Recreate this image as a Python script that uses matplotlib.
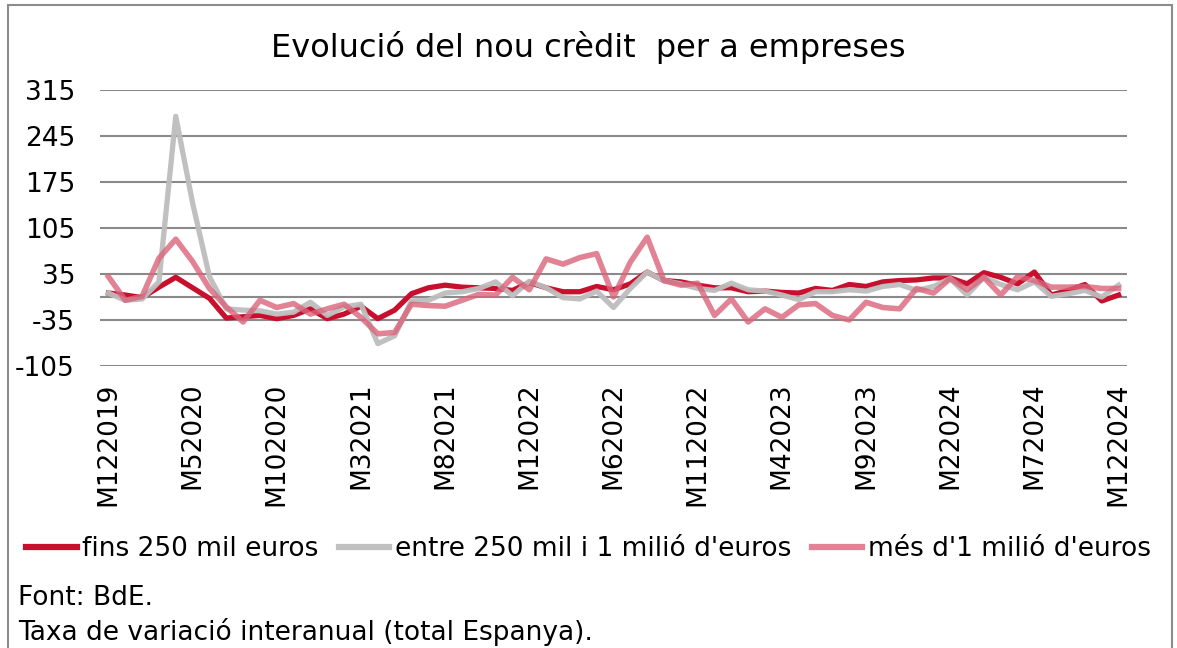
import numpy as np
import matplotlib
matplotlib.use("Agg")
import matplotlib.pyplot as plt
from matplotlib.patches import Rectangle

plt.rcParams['font.family'] = ['DejaVu Sans']
plt.rcParams['axes.unicode_minus'] = False

# monthly, M122019 .. M122024
months = ["M122019", "M12020", "M22020", "M32020", "M42020", "M52020", "M62020", "M72020",
          "M82020", "M92020", "M102020", "M112020", "M122020", "M12021", "M22021", "M32021",
          "M42021", "M52021", "M62021", "M72021", "M82021", "M92021", "M102021", "M112021",
          "M122021", "M12022", "M22022", "M32022", "M42022", "M52022", "M62022", "M72022",
          "M82022", "M92022", "M102022", "M112022", "M122022", "M12023", "M22023", "M32023",
          "M42023", "M52023", "M62023", "M72023", "M82023", "M92023", "M102023", "M112023",
          "M122023", "M12024", "M22024", "M32024", "M42024", "M52024", "M62024", "M72024",
          "M82024", "M92024", "M102024", "M112024", "M122024"]

fins_250 = [6, 3, -1, 15, 30, 14, -2, -32, -30, -28,
            -33, -28, -18, -33, -26, -14, -33, -20, 5, 14,
            18, 15, 14, 13, 10, 22, 14, 8, 8, 16,
            11, 20, 38, 25, 23, 18, 14, 14, 8, 9,
            7, 6, 13, 10, 19, 16, 23, 25, 26, 29,
            29, 20, 37, 30, 20, 38, 3, 10, 19, -6,
            3]
entre_250_1m = [6, -5, -3, 23, 275, 143, 31, -18, -20, -21,
                -26, -23, -8, -28, -15, -11, -71, -59, -6, -5,
                6, 8, 13, 23, 2, 24, 14, -1, -3, 9,
                -16, 13, 38, 25, 20, 13, 10, 21, 11, 9,
                3, -4, 8, 8, 11, 9, 16, 19, 10, 16,
                28, 3, 30, 19, 11, 23, 1, 5, 10, 0,
                18]
mes_1m = [31, -5, 1, 59, 88, 54, 13, -15, -38, -5,
          -16, -10, -26, -18, -11, -31, -56, -54, -11, -13,
          -14, -5, 4, 3, 30, 11, 58, 50, 60, 66,
          0, 53, 91, 25, 18, 21, -28, -3, -38, -18,
          -31, -12, -10, -28, -35, -8, -16, -18, 13, 6,
          28, 11, 30, 3, 31, 25, 15, 15, 16, 13,
          13]

yticks = [-105, -35, 35, 105, 175, 245, 315]
label_every = 5

fig = plt.figure(figsize=(11.77, 6.48), dpi=100)
ax = fig.add_axes([100/1177, 1 - 366/648, 1027/1177, 276/648])

x = np.arange(len(months))
ax.plot(x, fins_250, color='#C8102E', lw=3.8, label='fins 250 mil euros', zorder=3,
        solid_joinstyle='round')
ax.plot(x, entre_250_1m, color='#BDBDBD', lw=3.8, alpha=0.95, label="entre 250 mil i 1 milió d'euros",
        zorder=4, solid_joinstyle='round')
ax.plot(x, mes_1m, color=(218/255, 100/255, 122/255), lw=4, alpha=0.8,
        label="més d'1 milió d'euros", zorder=5, solid_joinstyle='round')

ax.set_xlim(-0.5, len(months) - 0.5)
ax.set_ylim(-105, 315)
ax.set_yticks(yticks)
ax.set_yticklabels([str(v) for v in yticks])
ax.yaxis.grid(True, color='#8A8A8A', lw=1.5)
ax.axhline(0, color='#8A8A8A', lw=1.5, zorder=2)
ax.set_axisbelow(True)
for s in ax.spines.values():
    s.set_visible(False)
ax.tick_params(axis='y', length=0, labelsize=19, pad=18)
ax.set_xticks(x[::label_every])
ax.set_xticklabels(months[::label_every], rotation=90, fontsize=19)
ax.tick_params(axis='x', length=0, pad=12)

fig.text(0.5, 1 - 48/648, "Evolució del nou crèdit  per a empreses", ha='center', va='center',
         fontsize=23)

leg = fig.legend(loc='center', bbox_to_anchor=(0.5, 1 - 549/648), ncol=3, frameon=False,
                 fontsize=19, handlelength=1.9, handletextpad=0.2, columnspacing=0.8)
for ln in leg.get_lines():
    ln.set_linewidth(4.5)

fig.text(18/1177, 1 - 598/648, "Font: BdE.", ha='left', va='center', fontsize=19)
fig.text(18/1177, 1 - 632/648, "Taxa de variació interanual (total Espanya).", ha='left',
         va='center', fontsize=19)

fig.patches.append(Rectangle((8/1177, -0.01), 1164/1177, 1 - 5/648 + 0.01,
                             transform=fig.transFigure, fill=False, edgecolor='#8C8C8C', lw=1.5))

fig.savefig("out.png", dpi=100)
